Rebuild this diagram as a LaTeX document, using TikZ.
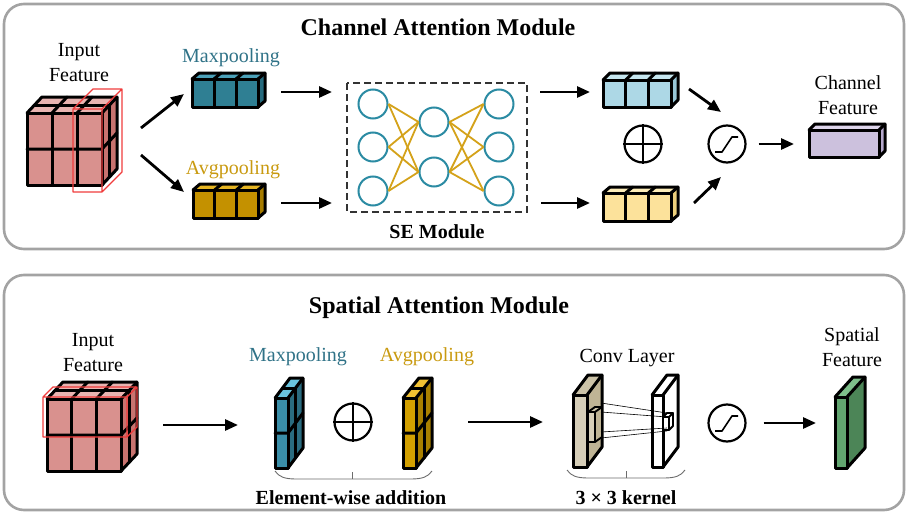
\documentclass[tikz,border=0pt]{standalone}
\usepackage{fontspec}
\setmainfont{Liberation Serif}
\usetikzlibrary{arrows.meta}

% palette
\definecolor{panelgray}{HTML}{A3A3A3}
\definecolor{tealtxt}{HTML}{2F7287}
\definecolor{goldtxt}{HTML}{C99A10}
\definecolor{neuroncol}{HTML}{2B8BA3}
\definecolor{wirecol}{HTML}{D4A21A}
\definecolor{redwire}{HTML}{F03C3C}

\definecolor{cubeF}{HTML}{D9918E}\definecolor{cubeT}{HTML}{E8B4B1}\definecolor{cubeS}{HTML}{C8736F}
\definecolor{mpF}{HTML}{2F7F93}\definecolor{mpT}{HTML}{4BA0B8}\definecolor{mpS}{HTML}{266B7E}
\definecolor{apF}{HTML}{C49100}\definecolor{apT}{HTML}{E6B523}\definecolor{apS}{HTML}{A67C00}
\definecolor{lbF}{HTML}{ADD8E6}\definecolor{lbT}{HTML}{C6E6EF}\definecolor{lbS}{HTML}{97C6D6}
\definecolor{lyF}{HTML}{FCE29B}\definecolor{lyT}{HTML}{FDEDB9}\definecolor{lyS}{HTML}{EDD07C}
\definecolor{puF}{HTML}{CCC1DD}\definecolor{puT}{HTML}{DED5EB}\definecolor{puS}{HTML}{B5A8CC}
\definecolor{smpF}{HTML}{3A8EA8}\definecolor{smpT}{HTML}{6AC4DE}\definecolor{smpS}{HTML}{2A6C80}
\definecolor{sapF}{HTML}{D3A000}\definecolor{sapT}{HTML}{F2C233}\definecolor{sapS}{HTML}{A98000}
\definecolor{cvF}{HTML}{D6CEB8}\definecolor{cvT}{HTML}{CCC3A8}\definecolor{cvS}{HTML}{BFB495}
\definecolor{grF}{HTML}{62A670}\definecolor{grT}{HTML}{7EBF8A}\definecolor{grS}{HTML}{4C8557}

\def\blkw{3pt}
\newcommand\setfaces[3]{\colorlet{cF}{#1}\colorlet{cT}{#2}\colorlet{cS}{#3}}
% cuboid: x, y (front top-left), width, height, depth dx, dy, cells nx, ny, nz
\newcommand\cuboid[9]{%
 \begin{scope}[line width=\blkw, line join=round, line cap=round]
  \fill[cF] (#1,#2) rectangle ++(#3,#4);
  \fill[cT] (#1,#2) -- ++(#5,#6) -- ++(#3,0) -- ++({-(#5)},{-(#6)}) -- cycle;
  \fill[cS] ({#1+#3},#2) -- ++(#5,#6) -- ++(0,#4) -- ++({-(#5)},{-(#6)}) -- cycle;
  \ifnum#7>1 \foreach \i in {2,...,#7}{%
    \draw ({#1+(\i-1)*#3/#7},#2) -- ++(0,#4);
    \draw ({#1+(\i-1)*#3/#7},#2) -- ++(#5,#6);}\fi
  \ifnum#8>1 \foreach \j in {2,...,#8}{%
    \draw (#1,{#2+(\j-1)*#4/#8}) -- ++(#3,0) -- ++(#5,#6);}\fi
  \ifnum#9>1 \foreach \k in {2,...,#9}{%
    \draw ({#1+(\k-1)*#5/#9},{#2+(\k-1)*#6/#9}) -- ++(#3,0) -- ++(0,#4);}\fi
  \draw (#1,#2) rectangle ++(#3,#4);
  \draw (#1,#2) -- ++(#5,#6) -- ++(#3,0) -- ++(0,#4) -- ++({-(#5)},{-(#6)});
  \draw ({#1+#3},#2) -- ++(#5,#6);
 \end{scope}}
% thin red wire box marking a slice
\newcommand\wirebox[6]{%
 \draw[redwire, line width=1.3pt, line join=round] (#1,#2) rectangle ++(#3,#4)
   (#1,#2) -- ++(#5,#6) -- ++(#3,0) -- ++(0,#4) -- ++({-(#5)},{-(#6)})
   ({#1+#3},#2) -- ++(#5,#6);}

\begin{document}
\begin{tikzpicture}[x=1pt,y=-1pt,
  panel/.style={draw=panelgray, line width=2.6pt, rounded corners=20pt},
  lbl/.style={font=\fontsize{20}{25}\selectfont, align=center, inner sep=0pt},
  ttl/.style={font=\fontsize{24}{28}\selectfont\bfseries, inner sep=0pt, anchor=base},
  bld/.style={font=\fontsize{20}{25}\selectfont\bfseries, inner sep=0pt, anchor=base},
  arr/.style={line width=2.8pt, -{Triangle[length=13pt,width=11pt]}},
  neuron/.style={circle, draw=neuroncol, line width=2pt, fill=white, minimum size=29pt, inner sep=0pt},
  opcirc/.style={circle, draw=black, line width=2.2pt, fill=white, minimum size=37pt, inner sep=0pt},
  wire/.style={draw=wirecol, line width=1.8pt},
  bracecol/.style={draw=gray!85!black, line width=0.9pt}]
\useasboundingbox (0,0) rectangle (906,514);

% ---------------- panels ----------------
\draw[panel] (4,4) rectangle (904,249);
\draw[panel] (4,275) rectangle (904,510);

% ================= Channel attention =================
\node[ttl] (t1) at (438,35) {Channel Attention Module};
\node[lbl] (inC) at (79,63) {Input\\Feature};

\setfaces{cubeF}{cubeT}{cubeS}
\cuboid{27}{113}{75}{72}{15}{-16}{3}{2}{2}
\wirebox{73}{109}{29}{83}{20}{-20}

\node[lbl, anchor=base, text=tealtxt] (mpl) at (231,62) {Maxpooling};
\node[lbl, anchor=base, text=goldtxt] (apl) at (233,174) {Avgpooling};
\setfaces{mpF}{mpT}{mpS}
\cuboid{192}{79}{66}{28}{7}{-6}{3}{1}{1}
\setfaces{apF}{apT}{apS}
\cuboid{193}{190}{65}{28}{7}{-6}{3}{1}{1}

% SE block
\draw[dashed, dash pattern=on 7pt off 4pt, line width=1.3pt, black!80] (347,83) rectangle (527,212);
\node[neuron] (l1) at (373,104) {};
\node[neuron] (l2) at (373,147) {};
\node[neuron] (l3) at (373,191) {};
\node[neuron] (m1) at (434,122) {};
\node[neuron] (m2) at (434,172) {};
\node[neuron] (r1) at (499,104) {};
\node[neuron] (r2) at (499,147) {};
\node[neuron] (r3) at (499,191) {};
\foreach \a in {l1,l2,l3}{\foreach \b in {m1,m2}{\draw[wire] (\a.east) -- (\b.west);}}
\foreach \a in {r1,r2,r3}{\foreach \b in {m1,m2}{\draw[wire] (\b.east) -- (\a.west);}}
\node[bld] (se) at (437,238) {SE Module};

\setfaces{lbF}{lbT}{lbS}
\cuboid{603}{80}{68}{27}{7}{-7}{3}{1}{1}
\setfaces{lyF}{lyT}{lyS}
\cuboid{603}{193}{68}{28}{7}{-6}{3}{1}{1}

\node[opcirc] (p1) at (643,144) {};
\draw[line width=1.8pt] (p1.north) -- (p1.south) (p1.west) -- (p1.east);
\node[opcirc] (s1) at (727,144) {};
\draw[line width=1.6pt, line join=round] ([shift={(-12,8)}]s1.center) -- ++(7,0) -- ++(10,-15) -- ++(6,0);

\node[lbl] (cf) at (848,95) {Channel\\Feature};
\setfaces{puF}{puT}{puS}
\cuboid{809}{130}{70}{27}{6}{-6}{1}{1}{1}

% arrow end points
\coordinate (a1s) at (141,128); \coordinate (a1e) at (184,94);
\coordinate (a2s) at (141,155); \coordinate (a2e) at (184,192);
\coordinate (a3s) at (281,92);  \coordinate (a3e) at (332,92);
\coordinate (a4s) at (281,203); \coordinate (a4e) at (332,203);
\coordinate (a5s) at (540,92);  \coordinate (a5e) at (590,92);
\coordinate (a6s) at (541,203); \coordinate (a6e) at (590,203);
\coordinate (a7s) at (689,89);  \coordinate (a7e) at (721,112);
\coordinate (a8s) at (694,203); \coordinate (a8e) at (721,177);
\coordinate (a9e) at (794,144);
\foreach \s/\e in {a1s/a1e,a2s/a2e,a3s/a3e,a4s/a4e,a5s/a5e,a6s/a6e,a7s/a7e,a8s/a8e}{\draw[arr] (\s) -- (\e);}
\draw[arr] ([xshift=12pt]s1.east) -- (a9e);

% ================= Spatial attention =================
\node[ttl] (t2) at (439,313) {Spatial Attention Module};
\node[lbl] (inS) at (93,353) {Input\\Feature};

\setfaces{cubeF}{cubeT}{cubeS}
\cuboid{47}{399}{74}{72}{16}{-17}{3}{2}{2}
\wirebox{43}{397}{84}{40}{10}{-10}

\node[lbl, anchor=base, text=tealtxt] (mpl2) at (298,361) {Maxpooling};
\node[lbl, anchor=base, text=goldtxt] (apl2) at (427,361) {Avgpooling};
\setfaces{smpF}{smpT}{smpS}
\cuboid{275}{398}{13}{70}{15}{-20}{1}{2}{2}
\setfaces{sapF}{sapT}{sapS}
\cuboid{403}{398}{13}{70}{16}{-20}{1}{2}{2}
\node[opcirc] (p2) at (353,422) {};
\draw[line width=1.8pt] (p2.north) -- (p2.south) (p2.west) -- (p2.east);

% brace under the two pooled maps
\draw[bracecol] (275,471) .. controls (279,477) and (285,479) .. (296,479) -- (411,479)
  .. controls (422,479) and (428,477) .. (432,471);
\draw[bracecol] (352,479) -- (352,472);
\node[bld] (ew) at (351,504) {Element-wise addition};

% convolution layer
\node[lbl, anchor=base] (cvl) at (627,362) {Conv Layer};
\setfaces{cvF}{cvT}{cvS}
\cuboid{573}{395}{14}{72}{15}{-20}{1}{1}{1}
\setfaces{white}{white}{white}
\cuboid{652}{395}{11}{72}{15}{-20}{1}{1}{1}
{\def\blkw{1.9pt}
 \setfaces{cvF}{cvT}{cvS}
 \cuboid{588}{412}{7}{30}{7}{-5}{1}{1}{1}
 \setfaces{white}{white}{white}
 \cuboid{663}{417}{6}{13}{4}{-4}{1}{1}{1}}
\coordinate (k1) at (601,403); \coordinate (q1) at (667,413);
\coordinate (k2) at (601,412); \coordinate (q2) at (667,417);
\coordinate (k3) at (601,432); \coordinate (q3) at (667,428);
\coordinate (k4) at (601,438); \coordinate (q4) at (667,431);
\foreach \u/\v in {k1/q1,k2/q2,k3/q3,k4/q4}{\draw[line width=0.6pt] (\u) -- (\v);}
\draw[bracecol] (567,470) .. controls (571,476) and (577,478) .. (588,478) -- (664,478)
  .. controls (675,478) and (681,476) .. (685,470);
\draw[bracecol] (626,478) -- (626,471);
\node[bld] (kk) at (626,504) {3 × 3 kernel};

\node[opcirc] (s2) at (727,423) {};
\draw[line width=1.6pt, line join=round] ([shift={(-12,8)}]s2.center) -- ++(7,0) -- ++(10,-15) -- ++(6,0);

\node[lbl] (sf) at (852,347) {Spatial\\Feature};
\setfaces{grF}{grT}{grS}
\cuboid{835}{397}{12}{71}{18}{-20}{1}{1}{1}

\coordinate (b1s) at (163,425); \coordinate (b1e) at (238,425);
\coordinate (b2s) at (468,422); \coordinate (b2e) at (543,422);
\coordinate (b3e) at (816,423);
\draw[arr] (b1s) -- (b1e);
\draw[arr] (b2s) -- (b2e);
\draw[arr] ([xshift=17pt]s2.east) -- (b3e);
\end{tikzpicture}
\end{document}
